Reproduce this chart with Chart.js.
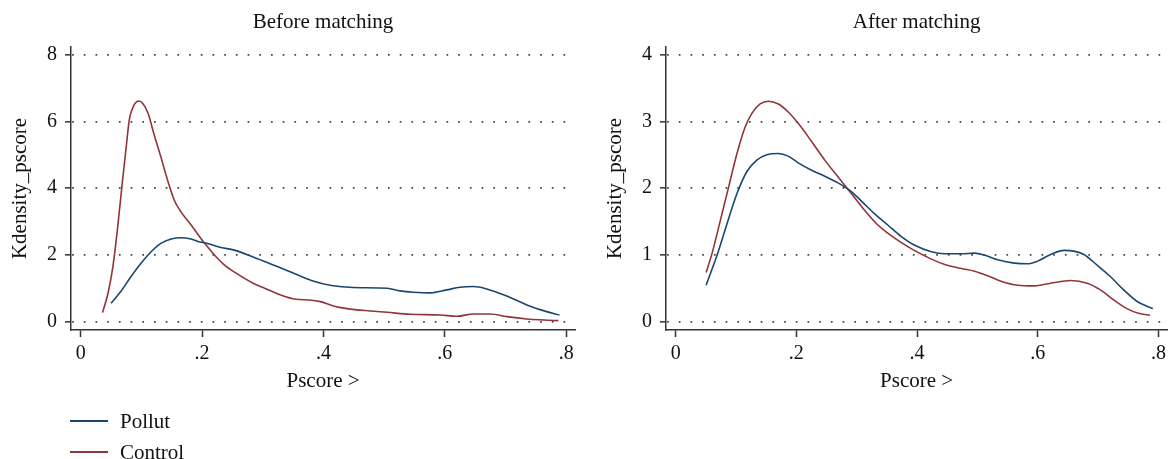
<!DOCTYPE html>
<html>
<head>
<meta charset="utf-8">
<script src="https://cdn.jsdelivr.net/npm/chart.js@4"></script>
<style>
html,body{margin:0;padding:0;background:#fff;}
#wrap{position:relative;width:1171px;height:459px;overflow:hidden;background:#fff;}
canvas{position:absolute;top:0;}
#legend{position:absolute;left:70px;top:0;font-family:"Liberation Serif",serif;font-size:21px;color:#111;}
.item{position:absolute;left:0;height:30px;white-space:nowrap;}
.item .ln{position:absolute;left:0;top:14px;width:38px;height:1.5px;}
.item .tx{position:absolute;left:50px;top:0;line-height:30px;}
</style>
</head>
<body>
<div id="wrap">
  <canvas id="c1" width="595" height="459" style="left:0"></canvas>
  <canvas id="c2" width="576" height="459" style="left:595px"></canvas>
  <div id="legend"></div>
</div>
<script>
// ---------- data ----------
const seriesNames = ['Pollut', 'Control'];
const panelTitles = ['Before matching', 'After matching'];
const yAxisTitle = 'Kdensity_pscore';
const xAxisTitle = 'Pscore >';
const xTickValues = [0, 0.2, 0.4, 0.6, 0.8];
const xTickLabels = ['0', '.2', '.4', '.6', '.8'];
const beforeYTicks = [0, 2, 4, 6, 8];
const afterYTicks = [0, 1, 2, 3, 4];

const beforePollutX = [0.050, 0.066, 0.083, 0.099, 0.116, 0.132, 0.149, 0.165, 0.182, 0.193, 0.209, 0.231, 0.253, 0.281, 0.314, 0.347, 0.380, 0.413, 0.449, 0.505, 0.526, 0.548, 0.576, 0.603, 0.625, 0.647, 0.669, 0.702, 0.735, 0.768, 0.789];
const beforePollutY = [0.56, 0.91, 1.36, 1.75, 2.10, 2.35, 2.48, 2.52, 2.48, 2.41, 2.35, 2.23, 2.15, 1.97, 1.73, 1.49, 1.24, 1.09, 1.03, 1.01, 0.93, 0.89, 0.87, 0.96, 1.04, 1.06, 0.99, 0.78, 0.51, 0.31, 0.21];

const beforeControlX = [0.036, 0.045, 0.053, 0.061, 0.069, 0.075, 0.080, 0.088, 0.096, 0.102, 0.111, 0.121, 0.132, 0.143, 0.154, 0.165, 0.182, 0.198, 0.209, 0.223, 0.237, 0.256, 0.284, 0.303, 0.325, 0.355, 0.377, 0.395, 0.416, 0.439, 0.477, 0.505, 0.543, 0.592, 0.620, 0.647, 0.675, 0.702, 0.735, 0.763, 0.787];
const beforeControlY = [0.28, 0.86, 1.65, 2.85, 4.25, 5.24, 6.04, 6.49, 6.61, 6.54, 6.24, 5.60, 4.94, 4.25, 3.65, 3.30, 2.90, 2.50, 2.25, 1.95, 1.70, 1.46, 1.16, 1.01, 0.84, 0.68, 0.66, 0.61, 0.48, 0.40, 0.33, 0.29, 0.23, 0.21, 0.17, 0.24, 0.24, 0.16, 0.09, 0.06, 0.04];

const afterPollutX = [0.0505, 0.0687, 0.0851, 0.1016, 0.1181, 0.1345, 0.151, 0.170, 0.1866, 0.2031, 0.2252, 0.2471, 0.269, 0.2911, 0.3075, 0.3294, 0.3515, 0.3735, 0.3953, 0.4238, 0.4459, 0.4733, 0.4953, 0.5118, 0.5337, 0.5612, 0.5831, 0.5996, 0.6215, 0.6436, 0.660, 0.6765, 0.6984, 0.7203, 0.7424, 0.7643, 0.7907];
const afterPollutY = [0.55, 1.00, 1.47, 1.92, 2.25, 2.42, 2.50, 2.52, 2.48, 2.38, 2.27, 2.18, 2.08, 1.95, 1.81, 1.62, 1.45, 1.28, 1.15, 1.05, 1.02, 1.02, 1.03, 1.00, 0.93, 0.88, 0.87, 0.91, 1.01, 1.07, 1.06, 1.01, 0.85, 0.68, 0.48, 0.31, 0.20];

const afterControlX = [0.0505, 0.0604, 0.0741, 0.0878, 0.1016, 0.1153, 0.1263, 0.140, 0.1537, 0.1702, 0.1866, 0.2031, 0.2252, 0.2471, 0.269, 0.2911, 0.313, 0.335, 0.3515, 0.3735, 0.3953, 0.4238, 0.4459, 0.4733, 0.4953, 0.5172, 0.5391, 0.5666, 0.5941, 0.6215, 0.6545, 0.682, 0.7039, 0.7259, 0.7478, 0.767, 0.7861];
const afterControlY = [0.74, 1.03, 1.52, 2.02, 2.52, 2.92, 3.12, 3.26, 3.30, 3.26, 3.14, 2.97, 2.70, 2.42, 2.17, 1.92, 1.67, 1.45, 1.33, 1.19, 1.07, 0.94, 0.86, 0.80, 0.76, 0.69, 0.61, 0.55, 0.54, 0.58, 0.62, 0.58, 0.48, 0.33, 0.20, 0.13, 0.10];

// ---------- styles ----------
const FONT = '"Liberation Serif", "Times New Roman", serif';
const TEXT = '#111111';
const AXIS = '#333333';
const seriesColors = ['#1a476f', '#90353b'];

Chart.defaults.font.family = FONT;
Chart.defaults.color = TEXT;

function pts(xs, ys) { return xs.map((x, i) => ({x: x, y: ys[i]})); }

function makeChart(id, title, pollut, control, yTicks, yMin, yMax, padRight) {
  const datasets = [pollut, control].map((d, i) => ({
    label: seriesNames[i],
    data: d,
    borderColor: seriesColors[i],
    backgroundColor: seriesColors[i],
    borderWidth: 1.6,
    pointRadius: 0,
    fill: false,
    cubicInterpolationMode: 'monotone'
  }));
  return new Chart(document.getElementById(id), {
    type: 'line',
    data: {datasets: datasets},
    options: {
      responsive: false,
      maintainAspectRatio: false,
      animation: false,
      events: [],
      layout: {padding: {left: 0, right: padRight, top: 0, bottom: 59}},
      plugins: {
        legend: {display: false},
        tooltip: {enabled: false},
        title: {
          display: true, text: title, fullSize: false,
          font: {family: FONT, size: 21, weight: 'normal'}, color: TEXT,
          padding: {top: 9.4, bottom: 12.4}
        }
      },
      scales: {
        x: {
          type: 'linear', position: 'bottom', min: -0.016, max: 0.8145,
          afterBuildTicks: s => { s.ticks = xTickValues.map(v => ({value: v})); },
          afterFit: s => { s.height = 70; },
          ticks: {
            font: {family: FONT, size: 20}, color: TEXT, padding: 5,
            maxRotation: 0, autoSkip: false,
            callback: (v, i) => xTickLabels[i]
          },
          grid: {drawOnChartArea: false, drawTicks: true, tickLength: 7, tickColor: AXIS, tickWidth: 1.5, tickBorderDash: []},
          border: {display: true, color: AXIS, width: 1.5},
          title: {display: true, text: xAxisTitle, font: {family: FONT, size: 21}, color: TEXT, padding: {top: 0, bottom: 6.4}}
        },
        y: {
          type: 'linear', position: 'left', min: yMin, max: yMax,
          afterBuildTicks: s => { s.ticks = yTicks.map(v => ({value: v})); },
          afterFit: s => { s.width = 71; },
          ticks: {font: {family: FONT, size: 20}, color: TEXT, padding: 8, autoSkip: false, callback: v => String(v)},
          grid: {drawOnChartArea: true, color: '#444444', lineWidth: 1.7, borderDash: [1.7, 10.0], drawTicks: true, tickLength: 6, tickColor: AXIS, tickWidth: 1.5, tickBorderDash: []},
          border: {display: true, color: AXIS, width: 1.5, dash: [1.7, 10.0], dashOffset: -0.6},
          title: {display: true, text: yAxisTitle, font: {family: FONT, size: 21}, color: TEXT, padding: {top: 7.4, bottom: 0}}
        }
      }
    }
  });
}

const chartBefore = makeChart('c1', panelTitles[0], pts(beforePollutX, beforePollutY), pts(beforeControlX, beforeControlY), beforeYTicks, -0.239, 8.224, 20);
const chartAfter = makeChart('c2', panelTitles[1], pts(afterPollutX, afterPollutY), pts(afterControlX, afterControlY), afterYTicks, -0.12, 4.112, 1);

// legend built from the chart's datasets
const legend = document.getElementById('legend');
const legendLineY = [420, 451];
chartBefore.data.datasets.forEach((ds, i) => {
  const item = document.createElement('div');
  item.className = 'item';
  item.style.top = (legendLineY[i] - 14) + 'px';
  const ln = document.createElement('div');
  ln.className = 'ln';
  ln.style.background = ds.borderColor;
  const tx = document.createElement('div');
  tx.className = 'tx';
  tx.textContent = ds.label;
  item.appendChild(ln); item.appendChild(tx);
  legend.appendChild(item);
});
</script>
</body>
</html>
